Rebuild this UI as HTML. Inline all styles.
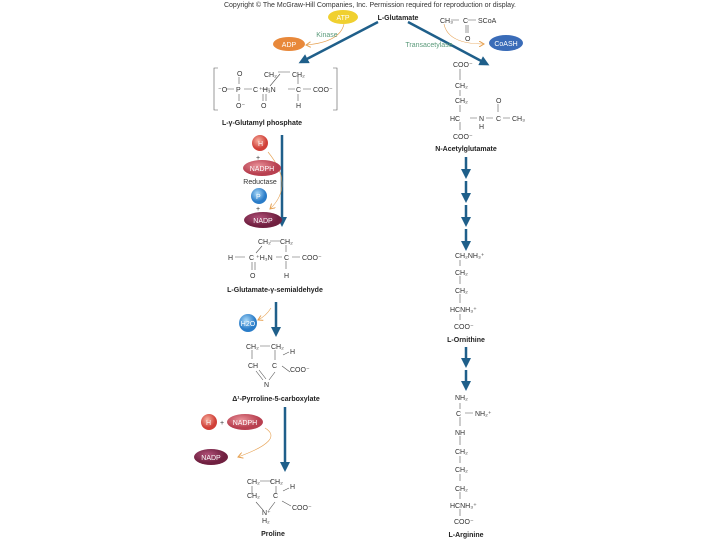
<!DOCTYPE html>
<html><head><meta charset="utf-8"><style>
html,body{margin:0;padding:0;background:#fff;width:720px;height:540px;overflow:hidden}
svg{display:block}
text{font-family:"Liberation Sans",sans-serif;fill:#333;font-size:7px}
.b{font-weight:bold;fill:#222}
.g{fill:#5a9a7a}
.w{fill:#fff}
</style></head><body>
<svg width="720" height="540" viewBox="0 0 720 540">
<defs>
<marker id="ah" markerWidth="4" markerHeight="4" refX="2" refY="2" orient="auto" markerUnits="strokeWidth"><path d="M0,0L4,2L0,4z" fill="#1f5f8a"/></marker>
<marker id="oa" markerWidth="6" markerHeight="6" refX="5" refY="3" orient="auto" markerUnits="userSpaceOnUse"><path d="M0,0L5,3L0,6" fill="none" stroke="#e6a050" stroke-width="1"/></marker>
<radialGradient id="rd" cx="40%" cy="35%"><stop offset="0" stop-color="#f8b0a0"/><stop offset="1" stop-color="#d04038"/></radialGradient>
<radialGradient id="bl" cx="40%" cy="35%"><stop offset="0" stop-color="#a8d8f8"/><stop offset="1" stop-color="#2a7cc8"/></radialGradient>
<radialGradient id="pk" cx="40%" cy="35%"><stop offset="0" stop-color="#e89098"/><stop offset="1" stop-color="#b84050"/></radialGradient>
<radialGradient id="dk" cx="40%" cy="35%"><stop offset="0" stop-color="#b05078"/><stop offset="1" stop-color="#702040"/></radialGradient>
</defs>
<g stroke="#555" stroke-width="0.6" fill="none">
<line x1="378" y1="22" x2="303" y2="61" stroke="#1f5f8a" stroke-width="2.5" marker-end="url(#ah)"/>
<line x1="408" y1="22" x2="485" y2="63" stroke="#1f5f8a" stroke-width="2.5" marker-end="url(#ah)"/>
<line x1="282" y1="135" x2="282" y2="222" stroke="#1f5f8a" stroke-width="2.5" marker-end="url(#ah)"/>
<line x1="276" y1="302" x2="276" y2="332" stroke="#1f5f8a" stroke-width="2.5" marker-end="url(#ah)"/>
<line x1="285" y1="407" x2="285" y2="467" stroke="#1f5f8a" stroke-width="2.5" marker-end="url(#ah)"/>
<line x1="466" y1="157" x2="466" y2="174" stroke="#1f5f8a" stroke-width="2.5" marker-end="url(#ah)"/>
<line x1="466" y1="181" x2="466" y2="198" stroke="#1f5f8a" stroke-width="2.5" marker-end="url(#ah)"/>
<line x1="466" y1="205" x2="466" y2="222" stroke="#1f5f8a" stroke-width="2.5" marker-end="url(#ah)"/>
<line x1="466" y1="229" x2="466" y2="246" stroke="#1f5f8a" stroke-width="2.5" marker-end="url(#ah)"/>
<line x1="466" y1="347" x2="466" y2="363" stroke="#1f5f8a" stroke-width="2.5" marker-end="url(#ah)"/>
<line x1="466" y1="370" x2="466" y2="386" stroke="#1f5f8a" stroke-width="2.5" marker-end="url(#ah)"/>
<path d="M344,24 Q340,42 306,45" stroke="#e6a050" marker-end="url(#oa)"/>
<path d="M444,24 Q448,44 484,44" stroke="#e6a050" marker-end="url(#oa)"/>
<path d="M268,152 Q295,185 270,209" stroke="#e6a050" marker-end="url(#oa)"/>
<path d="M271,308 Q266,316 258,320" stroke="#e6a050" marker-end="url(#oa)"/>
<path d="M265,428 Q285,440 238,457" stroke="#e6a050" marker-end="url(#oa)"/>
<path d="M218,68 L214,68 L214,110 L218,110 M333,68 L337,68 L337,110 L333,110"/>
<path d="M226,89H234 M244,89H252 M239,77V84 M239,94V101 M262,89H270 M270,86L280,74 M278,72H290 M298,75V84 M288,89H295 M303,89H311 M298,94V101 M263,94V101 M266,94V101"/>
<path d="M460,69V80 M460,90V96 M460,105V112 M470,118H477 M486,118H493 M498,104V112 M503,118H510 M460,122V130"/>
<path d="M451,20H459 M468,20H476 M466,25V33 M468,25V33"/>
<path d="M235,257H245 M262,246L256,253 M270,241H280 M286,245V252 M276,257H282 M292,257H300 M286,261V269 M252,262V270 M255,262V270"/>
<path d="M260,346H270 M252,350V359 M275,350V360 M283,355L289,352 M282,366L290,372 M256,371L263,380 M259,370L266,379 M275,372L269,380"/>
<path d="M260,481H272 M252,486V494 M276,486V494 M283,491L289,488 M282,501L291,506 M256,502L263,510 M275,502L269,510"/>
<path d="M460,260V266 M460,276V284 M460,294V303 M460,314V320 M460,403V409 M460,417V426 M465,413H473 M460,436V445 M460,456V463 M460,474V481 M460,492V499 M460,509V516"/>
</g>
<ellipse cx="343" cy="17" rx="15" ry="7" fill="#f0d030"/>
<text x="343" y="20" text-anchor="middle" class="w" font-size="6">ATP</text>
<ellipse cx="289" cy="44" rx="16" ry="7" fill="#e8883a"/>
<text x="289" y="47" text-anchor="middle" class="w" font-size="6">ADP</text>
<ellipse cx="506" cy="43" rx="17" ry="8" fill="#3a6cb8"/>
<text x="506" y="46" text-anchor="middle" class="w" font-size="6">CoASH</text>
<circle cx="260" cy="143" r="8" fill="url(#rd)"/><text x="258" y="146" class="w" font-size="7">H</text>
<text x="256" y="160">+</text>
<ellipse cx="262" cy="168" rx="19" ry="8" fill="url(#pk)"/><text x="262" y="171" text-anchor="middle" class="w" font-size="6">NADPH</text>
<text x="260" y="184" text-anchor="middle">Reductase</text>
<circle cx="259" cy="196" r="8" fill="url(#bl)"/><text x="256" y="199" class="w" font-size="7">P</text>
<text x="256" y="211">+</text>
<ellipse cx="263" cy="220" rx="19" ry="8" fill="url(#dk)"/><text x="263" y="223" text-anchor="middle" class="w" font-size="6">NADP</text>
<circle cx="248" cy="323" r="9" fill="url(#bl)"/><text x="248" y="326" text-anchor="middle" class="w" font-size="6">H2O</text>
<circle cx="209" cy="422" r="8" fill="url(#rd)"/><text x="206" y="425" class="w" font-size="7">H</text>
<text x="220" y="425">+</text>
<ellipse cx="245" cy="422" rx="18" ry="8" fill="url(#pk)"/><text x="245" y="425" text-anchor="middle" class="w" font-size="6">NADPH</text>
<ellipse cx="211" cy="457" rx="17" ry="8" fill="url(#dk)"/><text x="211" y="460" text-anchor="middle" class="w" font-size="6">NADP</text>
<text x="370" y="7" text-anchor="middle" font-size="6">Copyright © The McGraw-Hill Companies, Inc. Permission required for reproduction or display.</text>
<text x="398" y="20" text-anchor="middle" class="b">L-Glutamate</text>
<text x="327" y="37" text-anchor="middle" class="g" font-size="6.5">Kinase</text>
<text x="429" y="47" text-anchor="middle" class="g" font-size="6.5">Transacetylase</text>
<text x="440" y="23">CH₃</text><text x="463" y="23">C</text><text x="478" y="23">SCoA</text><text x="465" y="41">O</text>
<text x="237" y="76">O</text><text x="264" y="77">CH₂</text><text x="292" y="77">CH₂</text>
<text x="218" y="92">⁻O</text><text x="236" y="92">P</text><text x="253" y="92">C</text><text x="259" y="92">⁺H₃N</text><text x="296" y="92">C</text><text x="313" y="92">COO⁻</text>
<text x="236" y="108">O⁻</text><text x="261" y="108">O</text><text x="296" y="108">H</text>
<text x="262" y="125" text-anchor="middle" class="b">L-γ-Glutamyl phosphate</text>
<text x="453" y="67">COO⁻</text><text x="455" y="88">CH₂</text><text x="455" y="103">CH₂</text><text x="496" y="103">O</text>
<text x="450" y="121">HC</text><text x="479" y="121">N</text><text x="496" y="121">C</text><text x="512" y="121">CH₃</text><text x="479" y="129">H</text>
<text x="453" y="139">COO⁻</text>
<text x="466" y="151" text-anchor="middle" class="b">N-Acetylglutamate</text>
<text x="258" y="244">CH₂</text><text x="280" y="244">CH₂</text>
<text x="228" y="260">H</text><text x="249" y="260">C</text><text x="256" y="260">⁺H₃N</text><text x="284" y="260">C</text><text x="302" y="260">COO⁻</text>
<text x="250" y="278">O</text><text x="284" y="278">H</text>
<text x="275" y="292" text-anchor="middle" class="b">L-Glutamate-γ-semialdehyde</text>
<text x="246" y="349">CH₂</text><text x="271" y="349">CH₂</text>
<text x="248" y="368">CH</text><text x="272" y="368">C</text><text x="290" y="354">H</text><text x="290" y="372">COO⁻</text>
<text x="264" y="387">N</text>
<text x="276" y="401" text-anchor="middle" class="b">Δ¹-Pyrroline-5-carboxylate</text>
<text x="247" y="484">CH₂</text><text x="270" y="484">CH₂</text>
<text x="247" y="498">CH₂</text><text x="273" y="498">C</text><text x="290" y="489">H</text><text x="292" y="510">COO⁻</text>
<text x="262" y="515">N⁺</text><text x="262" y="523">H₂</text>
<text x="273" y="536" text-anchor="middle" class="b">Proline</text>
<text x="455" y="258">CH₂NH₃⁺</text><text x="455" y="275">CH₂</text><text x="455" y="293">CH₂</text><text x="450" y="312">HCNH₃⁺</text><text x="454" y="329">COO⁻</text>
<text x="466" y="342" text-anchor="middle" class="b">L-Ornithine</text>
<text x="455" y="400">NH₂</text><text x="456" y="416">C</text><text x="475" y="416">NH₂⁺</text><text x="455" y="435">NH</text>
<text x="455" y="454">CH₂</text><text x="455" y="472">CH₂</text><text x="455" y="491">CH₂</text><text x="450" y="508">HCNH₃⁺</text><text x="454" y="524">COO⁻</text>
<text x="466" y="537" text-anchor="middle" class="b">L-Arginine</text>
</svg>
</body></html>
